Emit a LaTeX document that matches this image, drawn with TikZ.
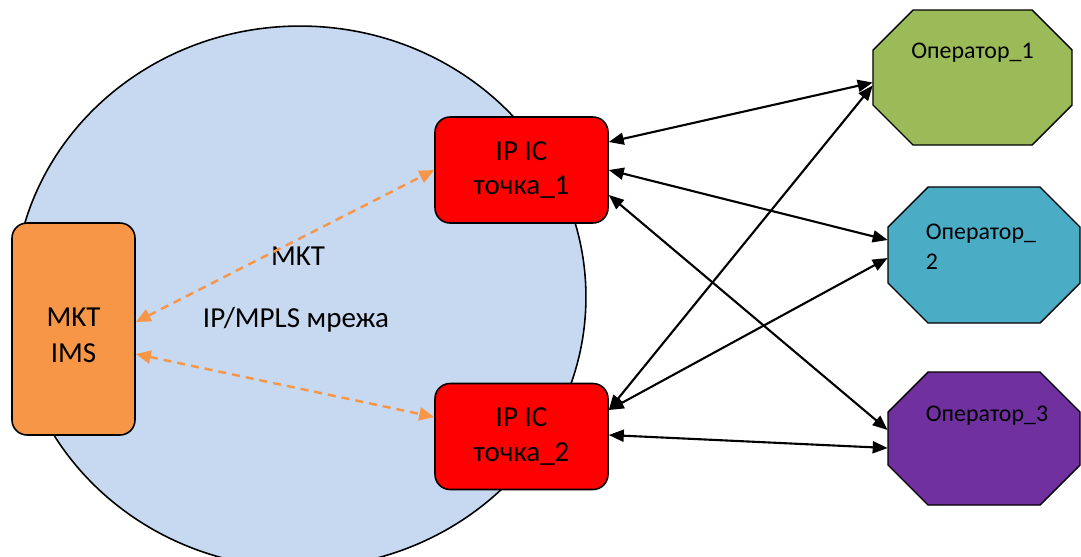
\documentclass[tikz,border=0pt]{standalone}
\usepackage{fontspec}
\setmainfont{Carlito}
\usetikzlibrary{arrows.meta}

\definecolor{netblue}{HTML}{C6D9F1}
\definecolor{imsorange}{HTML}{F79646}
\definecolor{icred}{HTML}{FF0000}
\definecolor{opgreen}{HTML}{9BBB59}
\definecolor{opcyan}{HTML}{4BACC6}
\definecolor{oppurple}{HTML}{7030A0}

\tikzset{
  bigtext/.style={font=\fontsize{16.5}{19.5}\selectfont},
  optext/.style={font=\fontsize{13.6}{17}\selectfont},
  imsbox/.style={draw, line width=0.9pt, rounded corners=0.3cm, fill=imsorange,
    minimum width=2.46cm, minimum height=4.24cm, align=center, bigtext},
  icbox/.style={draw, line width=0.9pt, rounded corners=0.3cm, fill=icred,
    minimum width=3.46cm, minimum height=2.12cm, align=center, bigtext},
  opbox/.style={rectangle, inner sep=0pt},
  link/.style={line width=1.2pt,
    {Triangle[length=0.3cm,width=0.24cm]}-{Triangle[length=0.3cm,width=0.24cm]}},
  mktlink/.style={imsorange, line width=1.4pt, dash pattern=on 0.16cm off 0.12cm,
    {Triangle[length=0.3cm,width=0.26cm]}-{Triangle[length=0.3cm,width=0.26cm]}}
}

\begin{document}
\begin{tikzpicture}[x=0.02cm, y=-0.02cm]
  %%%%% START %%%%%
  \useasboundingbox (0,0) rectangle (1081,556);

  % the network cloud, cut off at the lower edge
  \begin{scope}
    \clip (0,0) rectangle (1081,556);
    \filldraw[fill=netblue, line width=0.9pt] (300,297) ellipse [x radius=5.72cm, y radius=5.42cm];
  \end{scope}

  \node[bigtext] (mktlbl) at (298,256) {MKT};
  \node[bigtext] (netlbl) at (296,320) {IP/MPLS мрежа};

  \node[imsbox] (ims) at (73.5,329)
    {\raisebox{-0.17cm}[\height][\depth]{\begin{tabular}{@{}c@{}}MKT\\[1pt]IMS\end{tabular}}};
  \node[icbox] (ic1) at (521.5,170) {IP IC\\точка\_1};
  \node[icbox] (ic2) at (521.5,436.5) {IP IC\\точка\_2};

  % operator octagons: centre x/y, width, height, colour
  \foreach \cx/\cy/\w/\h/\col in {972.5/77.5/199/135/opgreen,
      984/255/192/136/opcyan, 984/438.5/192/133/oppurple}
    \filldraw[fill=\col, line width=0.8pt]
      (\cx-\w/2+40,\cy-\h/2) -- (\cx+\w/2-40,\cy-\h/2) -- (\cx+\w/2,\cy-\h/2+40)
      -- (\cx+\w/2,\cy+\h/2-40) -- (\cx+\w/2-40,\cy+\h/2) -- (\cx-\w/2+40,\cy+\h/2)
      -- (\cx-\w/2,\cy+\h/2-40) -- (\cx-\w/2,\cy-\h/2+40) -- cycle;

  \node[opbox, minimum width=3.98cm, minimum height=2.70cm,
    label={[optext, anchor=center, yshift=-0.86cm]north:Оператор\_1}] (op1) at (972.5,77.5) {};
  \node[opbox, minimum width=3.84cm, minimum height=2.72cm,
    label={[optext, anchor=west, align=left, xshift=0.64cm, yshift=0.16cm]west:Оператор\_\\2}] (op2) at (984,255) {};
  \node[opbox, minimum width=3.84cm, minimum height=2.66cm,
    label={[optext, anchor=center, xshift=0.06cm, yshift=-0.88cm]north:Оператор\_3}] (op3) at (984,438.5) {};

  % MKT links inside the network
  \draw[mktlink] ([yshift=0.14cm]ims.east) -- (ic1.west);
  \draw[mktlink] ([yshift=-0.5cm]ims.east) -- ([yshift=0.39cm]ic2.west);

  % interconnects to the operators
  \draw[link] ([yshift=0.56cm]ic1.east) -- ([yshift=-0.1cm]op1.west);
  \draw[link] (ic1.east) -- ([yshift=0.3cm]op2.west);
  \draw[link] ([yshift=-0.5cm]ic1.east) -- ([yshift=0.17cm]op3.west);
  \draw[link] ([yshift=0.53cm]ic2.east) -- ([yshift=-0.16cm]op1.west);
  \draw[link] ([yshift=0.53cm]ic2.east) -- ([yshift=-0.06cm]op2.west);
  \draw[link] ([yshift=0.03cm]ic2.east) -- ([yshift=-0.19cm]op3.west);
  %%%%% END %%%%%
\end{tikzpicture}
\end{document}
